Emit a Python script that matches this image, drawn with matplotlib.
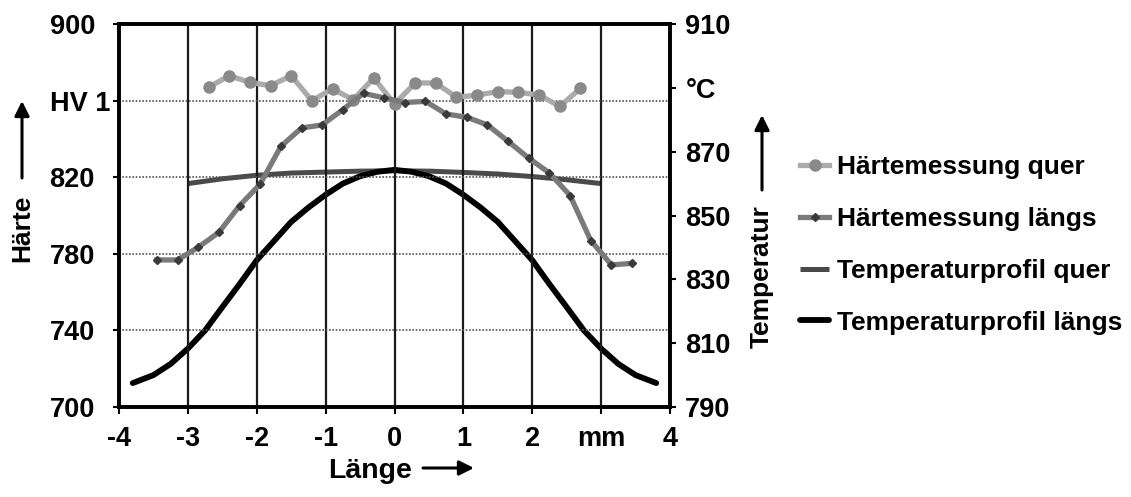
import matplotlib
matplotlib.use("Agg")
import matplotlib.pyplot as plt

plt.rcParams['font.family'] = ['Liberation Sans', 'DejaVu Sans']
plt.rcParams['font.weight'] = 'bold'

# Härtemessung quer (HV 1), 0.3 mm Raster
x_quer = [-2.7, -2.4, -2.1, -1.8, -1.5, -1.2, -0.9, -0.6, -0.3, 0.0,
          0.3, 0.6, 0.9, 1.2, 1.5, 1.8, 2.1, 2.4, 2.7]
hv_quer = [866.9, 873.0, 869.5, 867.8, 873.0, 860.0, 866.1, 860.5, 871.8, 858.2,
           869.2, 869.2, 861.7, 862.9, 864.7, 864.3, 862.9, 857.0, 866.4]

# Härtemessung längs
x_laengs = [-3.45, -3.15, -2.85, -2.55, -2.25, -1.95, -1.65, -1.35, -1.05, -0.75,
            -0.45, -0.15, 0.15, 0.45, 0.75, 1.05, 1.35, 1.65, 1.95, 2.25,
            2.55, 2.85, 3.15, 3.45]
hv_laengs = [776.8, 776.8, 783.4, 791.2, 805.1, 816.4, 836.1, 845.7, 847.3, 855.3,
             863.8, 861.4, 859.0, 859.6, 853.0, 851.3, 847.3, 838.7, 829.9, 822.2,
             810.4, 786.9, 774.2, 775.0]

# Temperaturprofil quer (°C)
x_tq = [-3.0, -2.5, -2.0, -1.5, -1.0, -0.5, 0.0, 0.5, 1.0, 1.5, 2.0, 2.5, 3.0]
t_quer = [860.0, 861.5, 862.6, 863.3, 863.6, 863.9, 864.0, 863.9, 863.5, 863.0,
          862.2, 861.2, 860.0]

# Temperaturprofil längs (°C)
x_tl = [-3.8, -3.5, -3.25, -3.0, -2.75, -2.5, -2.25, -2.0, -1.75, -1.5, -1.25,
        -1.0, -0.75, -0.5, -0.25, 0.0, 0.25, 0.5, 0.75, 1.0, 1.25, 1.5, 1.75,
        2.0, 2.25, 2.5, 2.75, 3.0, 3.25, 3.5, 3.8]
t_laengs = [797.5, 800.0, 803.5, 808.3, 814.0, 821.3, 828.5, 836.0, 842.0, 848.0,
            852.5, 856.5, 860.0, 862.3, 863.7, 864.3, 863.7, 862.3, 860.0, 856.5,
            852.5, 848.0, 842.0, 836.0, 828.5, 821.3, 814.0, 808.3, 803.5, 800.0,
            797.5]

x_ticks = [-4, -3, -2, -1, 0, 1, 2, 3, 4]
x_labels = ['-4', '-3', '-2', '-1', '0', '1', '2', 'mm', '4']
hv_ticks = [700, 740, 780, 820, 860, 900]
hv_labels = ['700', '740', '780', '820', 'HV 1', '900']
t_ticks = [790, 810, 830, 850, 870, 890, 910]
t_labels = ['790', '810', '830', '850', '870', '°C', '910']

fs = 19.5
W, H = 1131, 497
fig = plt.figure(figsize=(W / 100, H / 100), dpi=100)
ax = fig.add_axes([119 / W, 1 - 407 / H, (670 - 119) / W, (407 - 24) / H])
ax2 = ax.twinx()
ax.set_zorder(ax2.get_zorder() + 1)
ax.patch.set_visible(False)

# temperature curves (right axis, below the hardness curves)
l3, = ax2.plot(x_tq, t_quer, color='#4a4a4a', lw=3.6, solid_capstyle='butt')
l4, = ax2.plot(x_tl, t_laengs, color='black', lw=4.2, solid_capstyle='round')

# hardness measurements (left axis)
l1, = ax.plot(x_quer, hv_quer, color='#ababab', lw=3.8, marker='o', ms=8,
              mfc='#8a8a8a', mec='#8a8a8a')
l2, = ax.plot(x_laengs, hv_laengs, color='#7a7a7a', lw=3.8, marker='D', ms=4.5,
              mfc='#3a3a3a', mec='#3a3a3a')

ax.set_xlim(-4, 4)
ax.set_ylim(700, 900)
ax2.set_ylim(790, 910)
ax.set_xticks(x_ticks)
ax.set_xticklabels(x_labels)
ax.set_yticks(hv_ticks)
ax.set_yticklabels(hv_labels, ha='left')
ax2.set_yticks(t_ticks)
ax2.set_yticklabels(t_labels)

ax.xaxis.grid(True, color='#1a1a1a', lw=1.6)
ax.yaxis.grid(True, color='#555555', lw=1.2, linestyle=(0, (1, 1)))
ax.set_axisbelow(True)

for a in (ax, ax2):
    for s in a.spines.values():
        s.set_linewidth(2.6)
        s.set_color('black')
ax.tick_params(axis='x', length=5, width=1.5, pad=9, labelsize=fs)
# left labels start at a common left edge
ax.tick_params(axis='y', length=4, width=1.5, pad=46, labelsize=fs)
ax2.tick_params(axis='y', length=4, width=1.5, pad=7, labelsize=fs)

# axis titles with arrows
arrow = dict(arrowstyle='-|>', color='black', lw=2.2, mutation_scale=22,
             shrinkA=0, shrinkB=0)
fig.text(22 / W, 1 - 228 / H, 'Härte', rotation=90, ha='center', va='center',
         fontsize=19)
ax.annotate('', xy=(22, H - 101), xytext=(22, H - 178), xycoords='figure pixels',
            textcoords='figure pixels', arrowprops=arrow)
fig.text(762 / W, 1 - 277 / H, 'Temperatur', rotation=90, ha='center',
         va='center', fontsize=19)
ax.annotate('', xy=(762, H - 115), xytext=(762, H - 190), xycoords='figure pixels',
            textcoords='figure pixels', arrowprops=arrow)
fig.text(370 / W, 1 - 471 / H, 'Länge', ha='center', va='center', fontsize=20.5)
ax.annotate('', xy=(474, H - 468), xytext=(423, H - 468), xycoords='figure pixels',
            textcoords='figure pixels', arrowprops=arrow)

fig.legend([l1, l2, l3, l4],
           ['Härtemessung quer', 'Härtemessung längs',
            'Temperaturprofil quer', 'Temperaturprofil längs'],
           loc='center left', bbox_to_anchor=(800 / W, 1 - 245 / H),
           frameon=False, fontsize=19, handlelength=1.1, handletextpad=0.3,
           labelspacing=1.05, borderpad=0, borderaxespad=0)

fig.savefig('out.png', dpi=100)
